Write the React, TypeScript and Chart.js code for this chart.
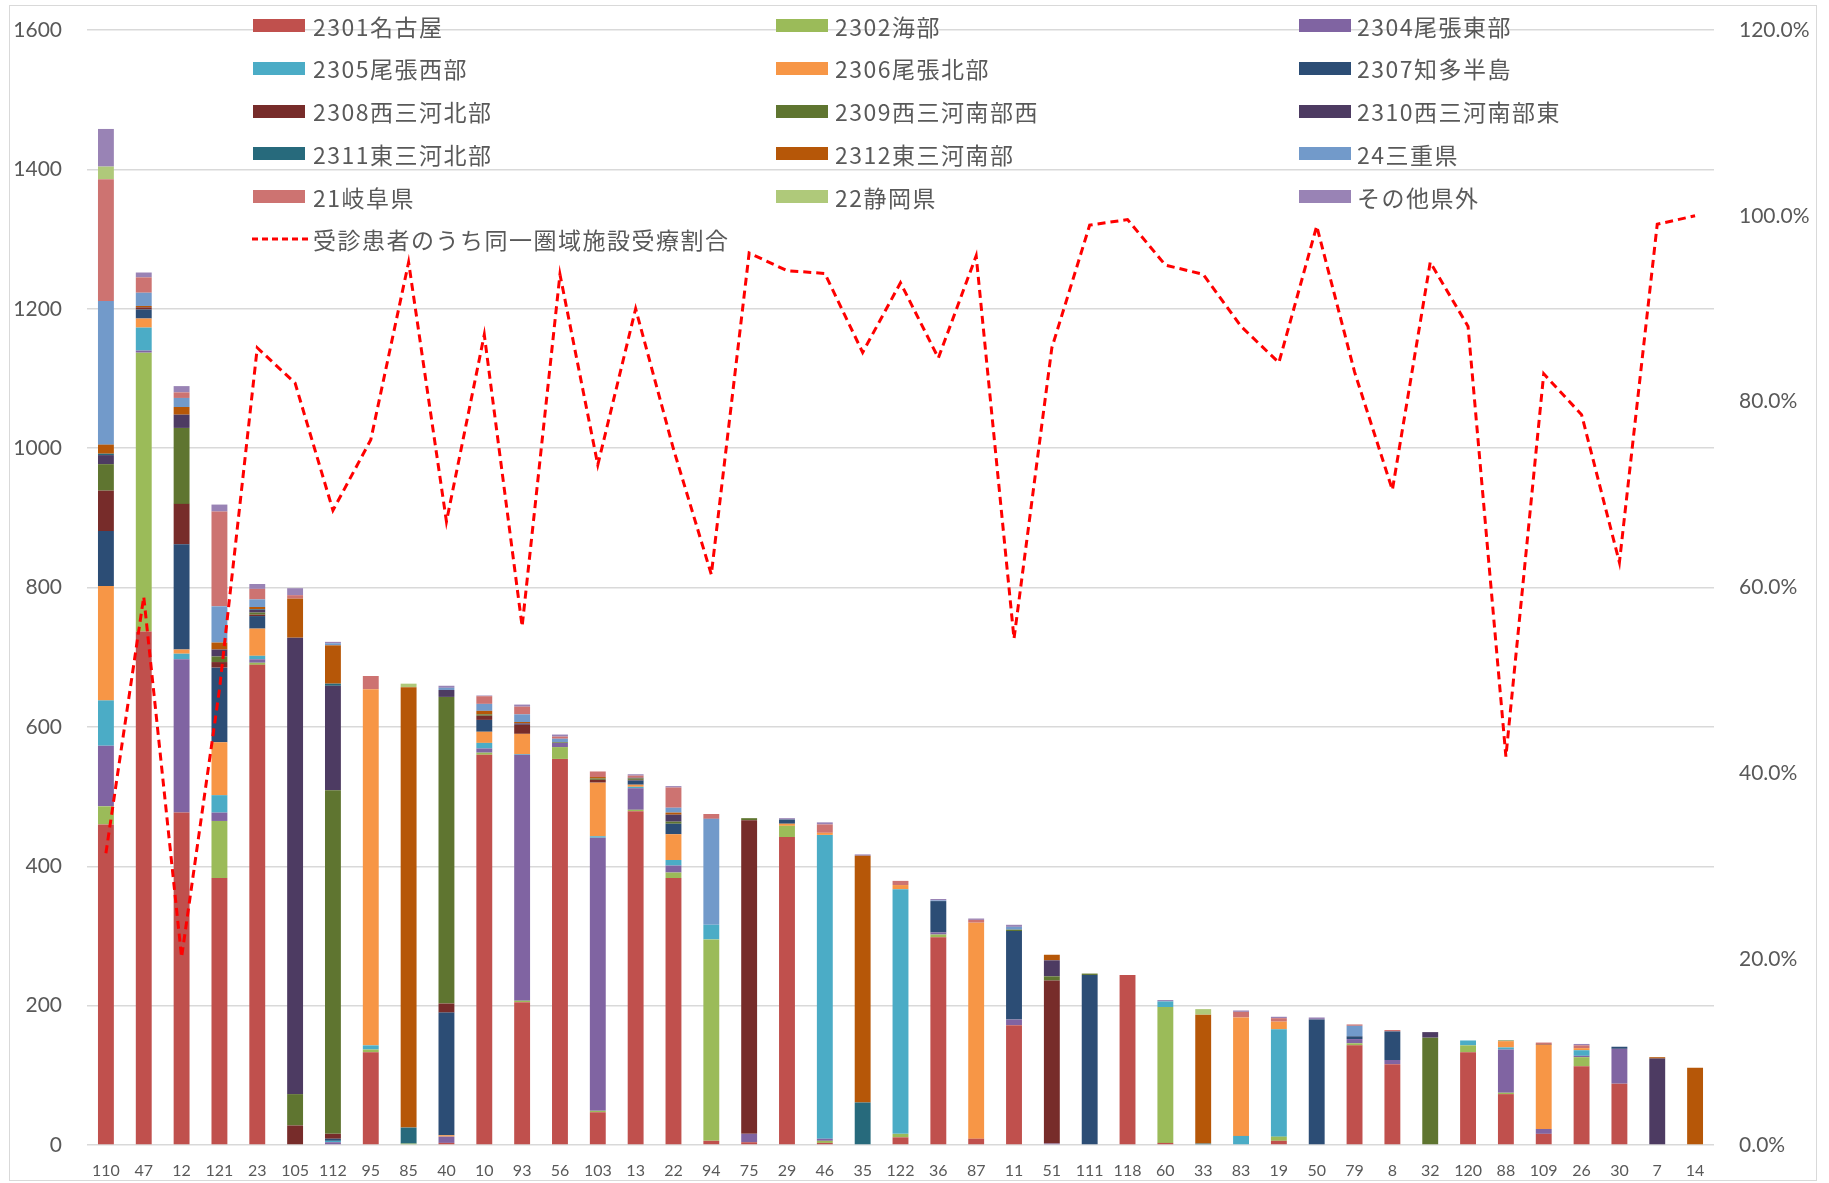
import React, { useEffect, useRef } from 'react';
import { Chart, registerables } from 'chart.js';
Chart.register(...registerables);

const categories = ['110','47','12','121','23','105','112','95','85','40','10','93','56','103','13','22','94','75','29','46','35','122','36','87','11','51','111','118','60','33','83','19','50','79','8','32','120','88','109','26','30','7','14'];

const nagoya     = [460,737,477,383,689,0,0,133,0,3, 560,205,554,47,479,383,6,4,442,3, 0,11,298,9,172,0,0,244,3,0, 0,6,0,143,116,0,133,73,16,113, 88,0,0];
const ama        = [26,400,0,82,3,0,0,4,2,0, 3,2,17,2,2,8,289,0,16,3, 0,5,4,0,0,0,0,0,195,0, 0,6,0,3,0,0,10,2,0,13, 0,0,0];
const owariEast  = [87,3,220,12,5,0,4,0,0,9, 6,353,6,392,31,10,0,12,0,3, 0,0,3,0,8,2,0,0,0,0, 0,0,0,6,6,0,0,62,7,2, 50,0,0];
const owariWest  = [65,33,8,25,5,0,2,6,0,0, 8,1,0,2,2,8,21,0,0,436, 0,351,0,0,0,0,0,0,8,0, 13,154,0,0,0,0,7,3,0,8, 0,0,0];
const owariNorth = [164,13,6,76,39,0,0,511,0,2, 16,29,0,77,3,37,0,0,3,3, 0,6,0,310,0,0,0,0,0,0, 170,11,0,0,0,0,0,9,121,3, 0,0,0];
const chita      = [79,13,151,107,18,0,3,0,0,176, 17,0,0,0,6,15,0,0,6,0, 0,0,45,0,127,0,244,0,0,0, 0,0,180,4,41,0,0,0,0,0, 3,0,0];
const nishiNorth = [58,3,58,8,2,28,7,0,0,13, 6,13,0,4,1,0,0,450,0,0, 0,0,0,0,0,234,0,0,0,0, 0,0,0,0,0,0,0,0,1,0, 0,0,0];
const nishiSW    = [38,0,109,8,3,45,493,0,0,440, 2,0,1,2,2,3,0,3,0,0, 0,0,0,0,2,6,2,0,0,0, 0,0,0,0,0,154,0,1,0,0, 0,0,0];
const nishiSE    = [13,0,19,10,4,655,150,0,0,10, 0,2,0,0,1,10,0,0,0,0, 0,0,0,0,0,23,0,0,0,0, 0,0,0,0,0,8,0,0,0,0, 0,124,0];
const higashiN   = [2,0,0,0,1,0,3,0,23,0, 0,0,0,0,0,0,0,0,0,0, 61,0,0,0,0,0,0,0,0,2, 0,0,0,0,0,0,0,0,0,0, 0,0,0];
const higashiS   = [13,2,11,10,3,56,55,0,632,0, 5,2,0,2,0,3,0,0,0,0, 354,0,0,0,0,8,0,0,0,185, 0,0,0,0,0,0,0,0,0,0, 0,2,111];
const mie        = [206,19,13,52,11,0,3,0,0,3, 10,11,5,0,0,7,152,0,0,0, 0,0,1,0,4,0,0,0,0,0, 0,0,0,15,0,0,0,0,0,0, 0,0,0];
const gifu       = [175,22,8,136,15,5,0,19,0,0, 11,11,3,8,3,29,7,0,0,12, 0,6,0,4,0,0,0,0,0,0, 8,5,0,2,2,0,0,0,2,4, 0,0,0];
const shizuoka   = [18,0,0,0,0,0,0,0,5,0, 0,0,0,0,0,0,0,0,0,0, 0,0,0,0,0,0,0,0,0,8, 0,0,0,0,0,0,0,0,0,0, 0,0,0];
const other      = [54,7,9,10,7,10,2,0,0,3, 1,3,3,0,2,2,0,0,2,3, 2,0,2,2,3,0,0,0,2,0, 2,2,3,0,0,0,0,0,0,2, 0,0,0];

const sameAreaRate = [31.4,59,20.2,49,85.8,82,68.3,75.9,95,67.1, 87.2,55.8,93.7,73.2,90,74.9,61.4,96,94.1,93.8, 85.3,92.8,84.7,95.7,54.5,85.8,99,99.6,94.7,93.7, 88.1,84.2,98.9,83.2,70.5,95,88.1,41.8,83,78.6, 62.7,99.1,100];

const seriesNames = ['2301名古屋','2302海部','2304尾張東部','2305尾張西部','2306尾張北部','2307知多半島','2308西三河北部','2309西三河南部西','2310西三河南部東','2311東三河北部','2312東三河南部','24三重県','21岐阜県','22静岡県','その他県外'];
const seriesColors = ['#C0504D','#9BBB59','#8064A2','#4BACC6','#F79646','#2C4D75','#772C2A','#5F7530','#4D3B62','#276A7C','#B65708','#729ACA','#CD7371','#AFC97A','#9983B5'];
const seriesData = [nagoya, ama, owariEast, owariWest, owariNorth, chita, nishiNorth, nishiSW, nishiSE, higashiN, higashiS, mie, gifu, shizuoka, other];
const lineName = '受診患者のうち同一圏域施設受療割合';

const textColor = '#595959';

export default function App() {
  const ref = useRef<HTMLCanvasElement>(null);
  useEffect(() => {
    document.body.style.margin = '0';
    const barSets = seriesNames.map((name, i) => ({
      type: 'bar' as const,
      label: name,
      data: seriesData[i],
      backgroundColor: seriesColors[i],
      borderWidth: 0,
      stack: 's',
      order: 1,
      yAxisID: 'y',
      barPercentage: 0.42,
      categoryPercentage: 1,
    }));
    const lineSet = {
      type: 'line' as const,
      label: lineName,
      data: sameAreaRate,
      borderColor: '#FF0000',
      backgroundColor: '#FF0000',
      borderWidth: 3,
      borderDash: [8, 5],
      pointRadius: 0,
      tension: 0,
      fill: false,
      order: 0,
      yAxisID: 'y1',
    };
    const chart = new Chart(ref.current!, {
      type: 'bar',
      data: { labels: categories, datasets: [...barSets, lineSet] as any },
      options: {
        responsive: false,
        animation: false,
        layout: { padding: { top: 30, left: 0, right: 0, bottom: 0 } },
        plugins: { legend: { display: false }, tooltip: { enabled: false } },
        scales: {
          x: {
            stacked: true,
            grid: { display: false },
            border: { display: false },
            ticks: { color: textColor, font: { family: 'Lato', size: 16 }, padding: 8, autoSkip: false, maxRotation: 0 },
            afterFit: (s: any) => { s.height = 38; },
          },
          y: {
            stacked: true,
            min: 0,
            max: 1600,
            ticks: { stepSize: 200, padding: 25, color: textColor, font: { family: 'Lato', size: 21 }, callback: (v: any) => String(v) },
            grid: { color: '#D9D9D9', lineWidth: 1.5, drawTicks: false },
            border: { display: false },
            afterFit: (s: any) => { s.width = 87; s.paddingTop = 0; s.paddingBottom = 0; },
          },
          y1: {
            position: 'right',
            min: 0,
            max: 120,
            ticks: { stepSize: 20, padding: 25, color: textColor, font: { family: 'Lato', size: 21 }, callback: (v: any) => Number(v).toFixed(1) + '%' },
            grid: { display: false, drawTicks: false },
            border: { display: false },
            afterFit: (s: any) => { s.width = 115; s.paddingTop = 0; s.paddingBottom = 0; },
          },
        },
      } as any,
    });
    return () => chart.destroy();
  }, []);

  const rowTop = (r: number) => 25.7 + 42.7 * r;
  const colSwatch = [253, 776, 1299];
  const colText = [313, 835, 1357];
  const legendText = { fontFamily: '"Noto Sans CJK JP", sans-serif', fontSize: 23, letterSpacing: 1.5, color: textColor, whiteSpace: 'nowrap' as const, height: 30, lineHeight: '30px' };

  return (
    <div style={{ position: 'relative', width: 1829, height: 1183, background: '#fff' }}>
      <canvas ref={ref} width={1829} height={1183} style={{ display: 'block', width: 1829, height: 1183 }} />
      <div style={{ position: 'absolute', left: 9, top: 5, width: 1806, height: 1174, border: '1.5px solid #D9D9D9', pointerEvents: 'none' }} />
      {seriesNames.map((name, i) => {
        const r = Math.floor(i / 3);
        const c = i % 3;
        const cy = rowTop(r);
        return (
          <React.Fragment key={name}>
            <div style={{ position: 'absolute', left: colSwatch[c], top: cy - 6.5, width: 52, height: 13, background: seriesColors[i] }} />
            <div style={{ position: 'absolute', left: colText[c], top: cy - 15, ...legendText }}>{name}</div>
          </React.Fragment>
        );
      })}
      <svg style={{ position: 'absolute', left: 252, top: rowTop(5) - 5, width: 56, height: 10 }}>
        <line x1={0} y1={5} x2={56} y2={5} stroke="#FF0000" strokeWidth={3} strokeDasharray="6 4" />
      </svg>
      <div style={{ position: 'absolute', left: colText[0], top: rowTop(5) - 15, ...legendText }}>{lineName}</div>
    </div>
  );
}
